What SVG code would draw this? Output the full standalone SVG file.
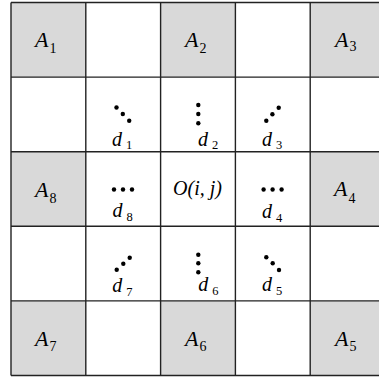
<svg xmlns="http://www.w3.org/2000/svg" width="379" height="379" viewBox="0 0 379 379">
<style>
.bg{fill:#ffffff}
.g{fill:#d9d9d9}
.ln{stroke:#222;stroke-width:1.4;fill:none}
.A{font-family:"Liberation Serif","Times New Roman",serif;font-style:italic;font-size:22px;fill:#000}
.d{font-family:"Liberation Serif","Times New Roman",serif;font-style:italic;font-size:20px;fill:#000}
.sa{font-style:normal;font-size:14px}
.sd{font-style:normal;font-size:12.5px}
.O{font-family:"Liberation Serif","Times New Roman",serif;font-style:italic;font-size:20px;fill:#000}
.dot{fill:#000}
</style>
<rect class="bg" x="0" y="0" width="379" height="379"/>
<g id="shading">
<rect class="g" x="11" y="2.5" width="74.8" height="74.6"/>
<rect class="g" x="160.6" y="2.5" width="74.8" height="74.6"/>
<rect class="g" x="310.2" y="2.5" width="74.8" height="74.6"/>
<rect class="g" x="11" y="151.7" width="74.8" height="74.6"/>
<rect class="g" x="310.2" y="151.7" width="74.8" height="74.6"/>
<rect class="g" x="11" y="300.9" width="74.8" height="74.6"/>
<rect class="g" x="160.6" y="300.9" width="74.8" height="74.6"/>
<rect class="g" x="310.2" y="300.9" width="74.8" height="74.6"/>
</g>
<g id="grid" class="ln">
<line x1="11" y1="2.5" x2="11" y2="375.5"/>
<line x1="85.8" y1="2.5" x2="85.8" y2="375.5"/>
<line x1="160.6" y1="2.5" x2="160.6" y2="375.5"/>
<line x1="235.4" y1="2.5" x2="235.4" y2="375.5"/>
<line x1="310.2" y1="2.5" x2="310.2" y2="375.5"/>
<line x1="11" y1="2.5" x2="385" y2="2.5"/>
<line x1="11" y1="77.1" x2="385" y2="77.1"/>
<line x1="11" y1="151.7" x2="385" y2="151.7"/>
<line x1="11" y1="226.3" x2="385" y2="226.3"/>
<line x1="11" y1="300.9" x2="385" y2="300.9"/>
<line x1="11" y1="375.5" x2="385" y2="375.5"/>
</g>
<g id="A1"><text class="A" x="35" y="47">A<tspan class="sa" dx="1" dy="6">1</tspan></text></g>
<g id="A2"><text class="A" x="185" y="47">A<tspan class="sa" dx="1" dy="6">2</tspan></text></g>
<g id="A3"><text class="A" x="335" y="47">A<tspan class="sa" dx="1" dy="4">3</tspan></text></g>
<g id="A8"><text class="A" x="35" y="197">A<tspan class="sa" dx="1" dy="6">8</tspan></text></g>
<g id="A4"><text class="A" x="334" y="196">A<tspan class="sa" dx="1" dy="7">4</tspan></text></g>
<g id="A7"><text class="A" x="35" y="345.5">A<tspan class="sa" dx="1" dy="5">7</tspan></text></g>
<g id="A6"><text class="A" x="185" y="345.5">A<tspan class="sa" dx="1" dy="5">6</tspan></text></g>
<g id="A5"><text class="A" x="335" y="345.5">A<tspan class="sa" dx="1" dy="5">5</tspan></text></g>
<g id="O"><text class="O" x="197.5" y="195" text-anchor="middle">O(i, j)</text></g>
<g id="d1">
<circle class="dot" cx="116.5" cy="107.5" r="2.2"/><circle class="dot" cx="122.8" cy="114" r="2.2"/><circle class="dot" cx="129.2" cy="120.8" r="2.2"/>
<text class="d" x="112" y="145.5">d<tspan class="sd" dx="4" dy="3">1</tspan></text>
</g>
<g id="d2">
<circle class="dot" cx="198.3" cy="105" r="2.2"/><circle class="dot" cx="198.3" cy="114" r="2.2"/><circle class="dot" cx="198.3" cy="123.3" r="2.2"/>
<text class="d" x="198" y="145.5">d<tspan class="sd" dx="4" dy="3">2</tspan></text>
</g>
<g id="d3">
<circle class="dot" cx="266.3" cy="120.7" r="2.2"/><circle class="dot" cx="272.4" cy="114.3" r="2.2"/><circle class="dot" cx="278.7" cy="107.7" r="2.2"/>
<text class="d" x="262" y="145.5">d<tspan class="sd" dx="4" dy="3">3</tspan></text>
</g>
<g id="d8">
<circle class="dot" cx="114" cy="189.5" r="2.2"/><circle class="dot" cx="123" cy="189.5" r="2.2"/><circle class="dot" cx="132" cy="189.5" r="2.2"/>
<text class="d" x="112.5" y="216.5">d<tspan class="sd" dx="4" dy="4">8</tspan></text>
</g>
<g id="d4">
<circle class="dot" cx="263.6" cy="189.5" r="2.2"/><circle class="dot" cx="272.6" cy="189.5" r="2.2"/><circle class="dot" cx="281.6" cy="189.5" r="2.2"/>
<text class="d" x="262" y="218">d<tspan class="sd" dx="4" dy="4">4</tspan></text>
</g>
<g id="d7">
<circle class="dot" cx="116.7" cy="269.7" r="2.2"/><circle class="dot" cx="123.3" cy="263.7" r="2.2"/><circle class="dot" cx="129.7" cy="257.7" r="2.2"/>
<text class="d" x="112.3" y="292">d<tspan class="sd" dx="4" dy="4">7</tspan></text>
</g>
<g id="d6">
<circle class="dot" cx="198.3" cy="254.7" r="2.2"/><circle class="dot" cx="198.3" cy="263.3" r="2.2"/><circle class="dot" cx="198.3" cy="272.3" r="2.2"/>
<text class="d" x="198.3" y="290.5">d<tspan class="sd" dx="4" dy="4">6</tspan></text>
</g>
<g id="d5">
<circle class="dot" cx="266.3" cy="257.3" r="2.2"/><circle class="dot" cx="272.7" cy="263.3" r="2.2"/><circle class="dot" cx="279" cy="270" r="2.2"/>
<text class="d" x="262" y="290.5">d<tspan class="sd" dx="4" dy="4">5</tspan></text>
</g>
<g id="connectors"/>
</svg>
